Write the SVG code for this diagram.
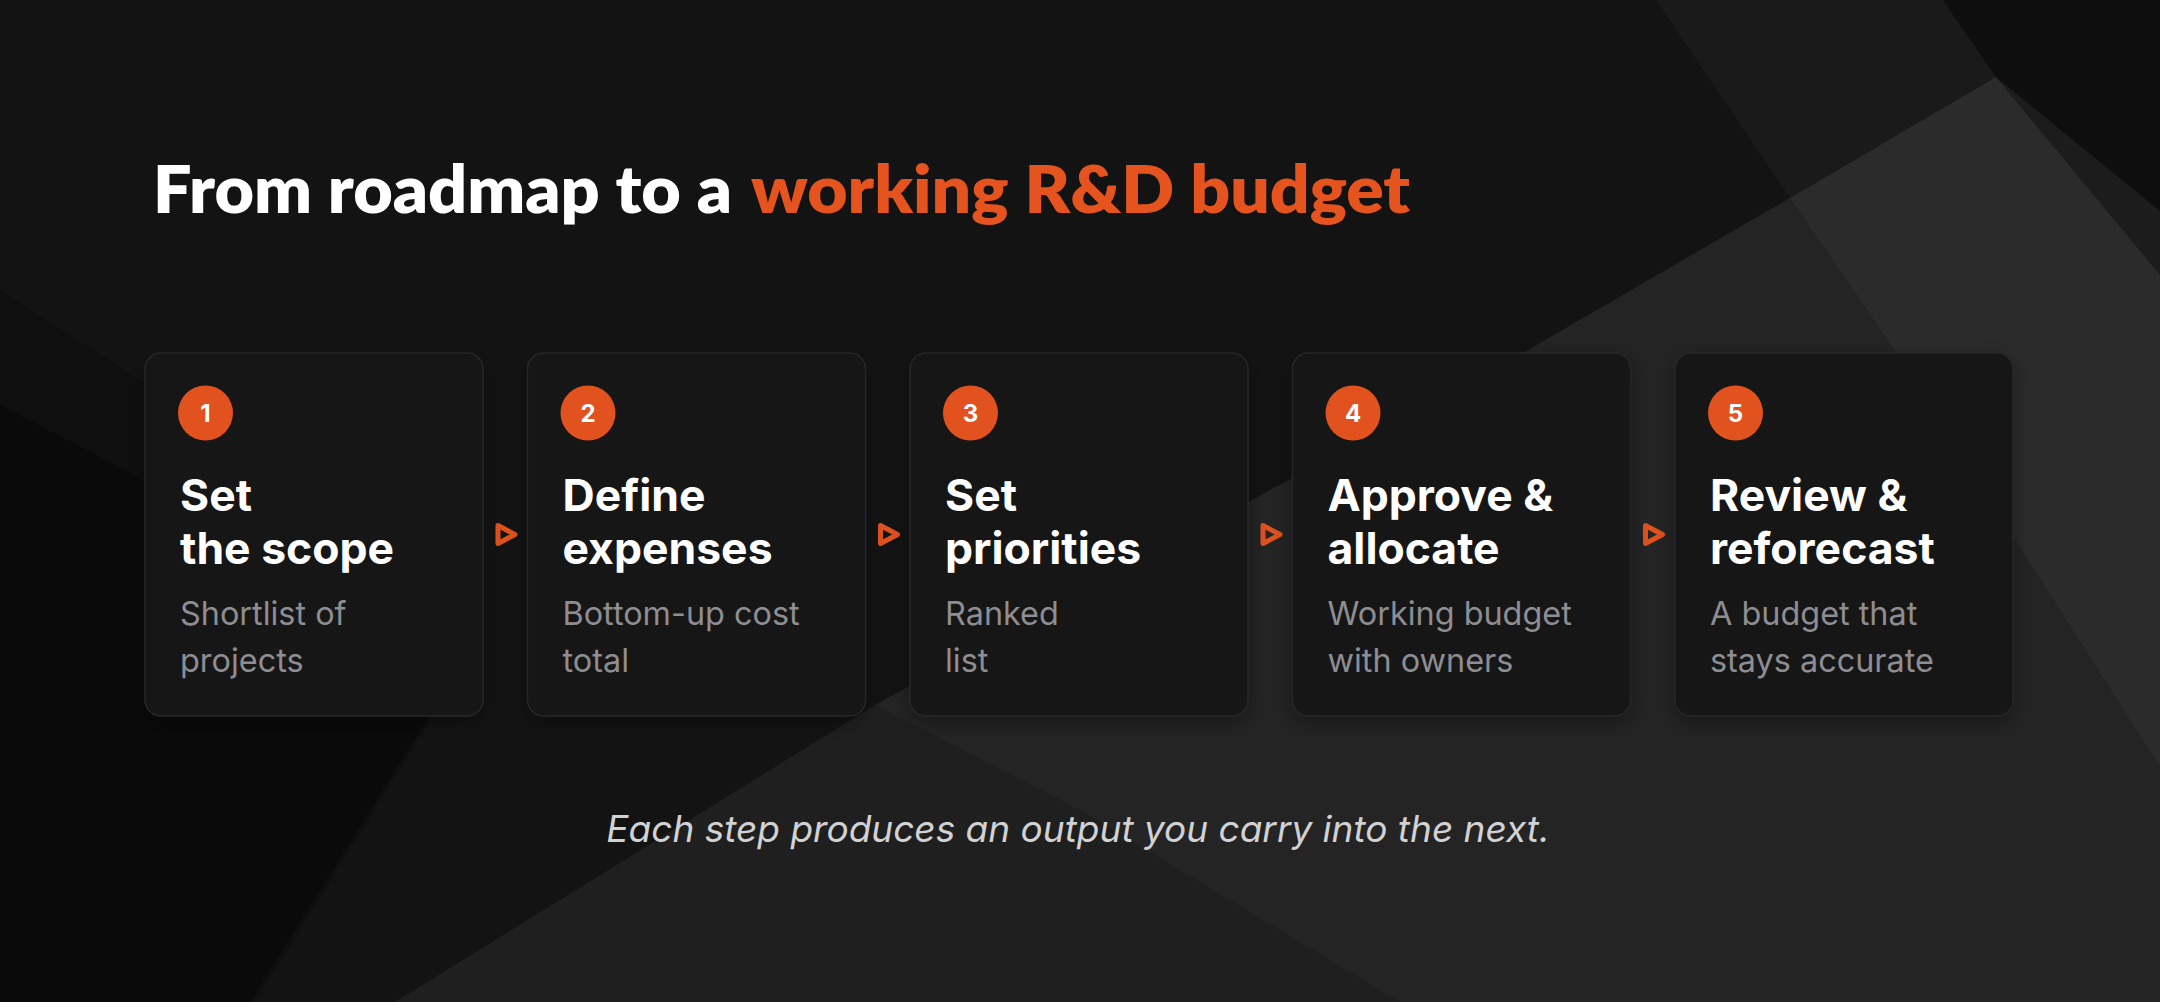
<svg xmlns="http://www.w3.org/2000/svg" width="2160" height="1002" viewBox="0 0 2160 1002">
  <defs>
    <style>
      .card { fill: #131316; stroke: #28282c; stroke-width: 1.5; }
      .badge { fill: #E1521F; }
      .num { font-family: Inter, "Noto Sans", sans-serif; font-weight: 700; font-size: 24px; fill: #ffffff; text-anchor: middle; }
      .title { font-family: Inter, "Noto Sans", sans-serif; font-weight: 700; font-size: 44.5px; fill: #ffffff; }
      .sub { font-family: Inter, "Noto Sans", sans-serif; font-weight: 400; font-size: 32.4px; fill: #8d8d92; }
      .arrow { fill: none; stroke: #E1521F; stroke-width: 5; stroke-linejoin: round; }
      .head { font-family: Lato, "Liberation Sans", sans-serif; font-weight: 800; font-size: 67px; }
      .foot { font-family: Inter, "Noto Sans", sans-serif; font-style: italic; font-size: 37px; fill: #d2d2d4; text-anchor: middle; }
    </style>
    <filter id="shadow" x="-20%" y="-20%" width="140%" height="140%">
      <feDropShadow dx="0" dy="6" stdDeviation="10" flood-color="#000000" flood-opacity="0.35"/>
    </filter>
  </defs>

  <g id="background">
    <rect x="0" y="0" width="2160" height="1002" fill="#131313"/>
    <polygon points="0,290 480,600 480,640 255,1002 0,1002" fill="#0f0f0f"/>
    <polygon points="0,405 470,650 250,1002 0,1002" fill="#0a0a0a"/>
    <polygon points="1656,0 1943,0 1996,77 1790,198" fill="#1a1a1a"/>
    <polygon points="1943,0 2160,0 2160,211 1996,77" fill="#0e0e0e"/>
    <polygon points="1996,77 2160,211 2160,275" fill="#1c1c1c"/>
    <polygon points="1996,77 2160,275 2160,1002 395,1002 875,705 1528,350 1790,198" fill="#1f1f1f"/>
    <polygon points="875,705 1528,350 1790,198 1893,348 2160,767 2160,1002 1400,1002 1080,810" fill="#242424"/>
    <polygon points="1996,77 2160,275 2160,767 1893,348 1790,198" fill="#2b2b2b"/>
  </g>

  <g id="heading">
    <text class="head" x="153" y="213" fill="#ffffff" textLength="579" lengthAdjust="spacingAndGlyphs">From roadmap to a</text>
    <text class="head" x="751" y="213" fill="#E5531F" textLength="659" lengthAdjust="spacingAndGlyphs">working R&amp;D budget</text>
  </g>

  <g id="connectors">
    <path class="arrow" d="M498,525.5 L515,534.5 L498,543.5 Z"/>
    <path class="arrow" d="M880.5,525.5 L897.5,534.5 L880.5,543.5 Z"/>
    <path class="arrow" d="M1263,525.5 L1280,534.5 L1263,543.5 Z"/>
    <path class="arrow" d="M1645.5,525.5 L1662.5,534.5 L1645.5,543.5 Z"/>
  </g>

  <g id="step1">
    <rect class="card" x="145" y="353" width="338" height="363" rx="16" filter="url(#shadow)"/>
    <circle class="badge" cx="205.5" cy="413" r="27.5"/>
    <text class="num" x="205.5" y="421.5">1</text>
    <text class="title" x="180" y="511">Set</text>
    <text class="title" x="180" y="564">the scope</text>
    <text class="sub" x="180" y="625">Shortlist of</text>
    <text class="sub" x="180" y="672">projects</text>
  </g>

  <g id="step2">
    <rect class="card" x="527.5" y="353" width="338" height="363" rx="16" filter="url(#shadow)"/>
    <circle class="badge" cx="588" cy="413" r="27.5"/>
    <text class="num" x="588" y="421.5">2</text>
    <text class="title" x="562.5" y="511">Define</text>
    <text class="title" x="562.5" y="564">expenses</text>
    <text class="sub" x="562.5" y="625">Bottom-up cost</text>
    <text class="sub" x="562.5" y="672">total</text>
  </g>

  <g id="step3">
    <rect class="card" x="910" y="353" width="338" height="363" rx="16" filter="url(#shadow)"/>
    <circle class="badge" cx="970.5" cy="413" r="27.5"/>
    <text class="num" x="970.5" y="421.5">3</text>
    <text class="title" x="945" y="511">Set</text>
    <text class="title" x="945" y="564">priorities</text>
    <text class="sub" x="945" y="625">Ranked</text>
    <text class="sub" x="945" y="672">list</text>
  </g>

  <g id="step4">
    <rect class="card" x="1292.5" y="353" width="338" height="363" rx="16" filter="url(#shadow)"/>
    <circle class="badge" cx="1353" cy="413" r="27.5"/>
    <text class="num" x="1353" y="421.5">4</text>
    <text class="title" x="1327.5" y="511">Approve &amp;</text>
    <text class="title" x="1327.5" y="564">allocate</text>
    <text class="sub" x="1327.5" y="625">Working budget</text>
    <text class="sub" x="1327.5" y="672">with owners</text>
  </g>

  <g id="step5">
    <rect class="card" x="1675" y="353" width="338" height="363" rx="16" filter="url(#shadow)"/>
    <circle class="badge" cx="1735.5" cy="413" r="27.5"/>
    <text class="num" x="1735.5" y="421.5">5</text>
    <text class="title" x="1710" y="511">Review &amp;</text>
    <text class="title" x="1710" y="564">reforecast</text>
    <text class="sub" x="1710" y="625">A budget that</text>
    <text class="sub" x="1710" y="672">stays accurate</text>
  </g>

  <g id="footer">
    <text class="foot" x="1078" y="842">Each step produces an output you carry into the next.</text>
  </g>
</svg>
